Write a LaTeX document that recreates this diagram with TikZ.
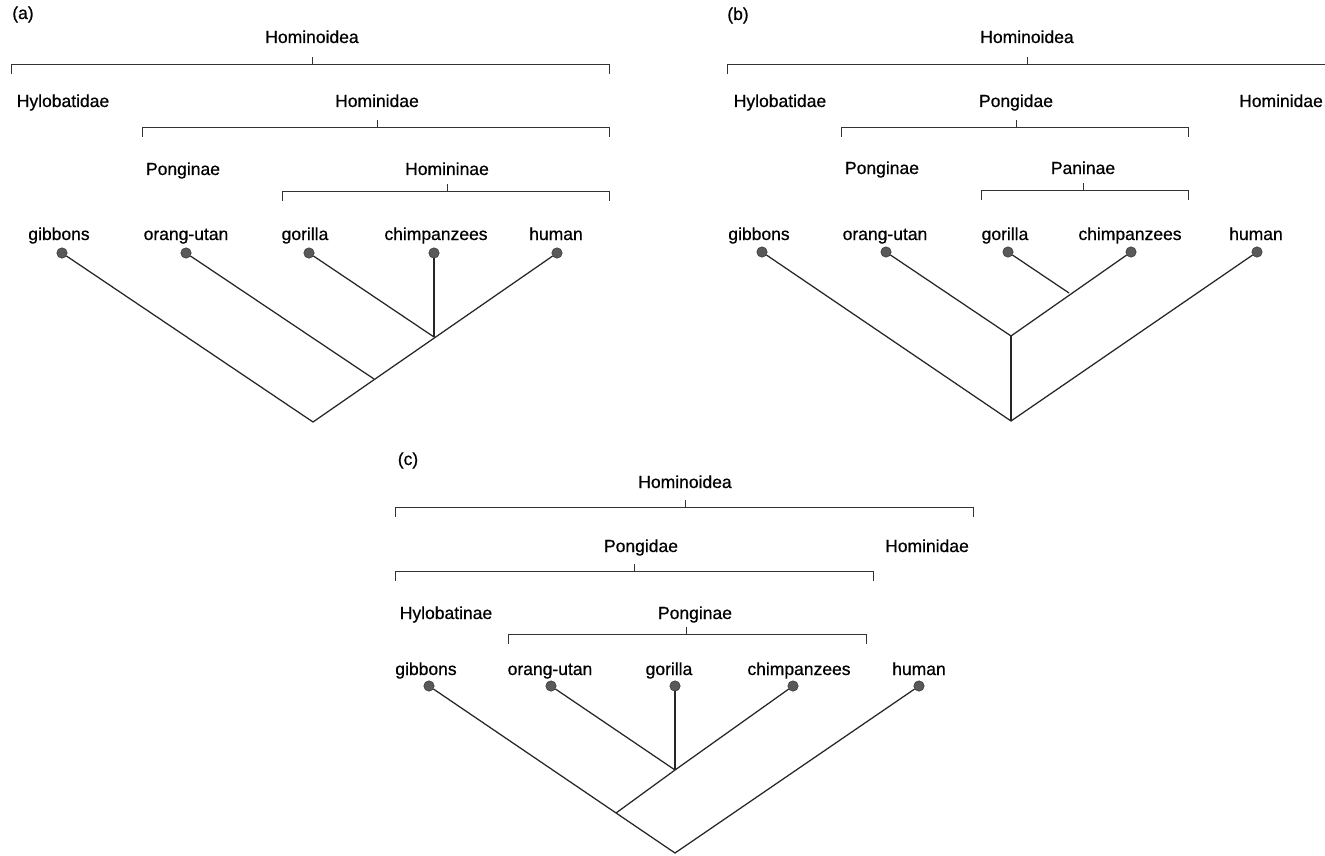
\documentclass[tikz,border=0pt]{standalone}
\usepackage{fontspec}
\setmainfont[FakeBold=0.6]{Liberation Sans}
\usetikzlibrary{positioning}
\tikzset{
    x=1pt, y=-1pt, % one unit is one pixel of the page, y runs down
    every node/.style={font=\fontsize{17.5}{20}\selectfont, inner sep=0pt, anchor=base},
    leaf/.style={circle, draw=black!85, fill=black!65, inner sep=0pt, minimum size=10.5pt, anchor=center},
    branch/.style={line width=1.25pt, black!85},
    brace/.style={line width=0.9pt, black!80},
    }
\newcommand{\clade}[4]{% bracket from #1 to #2 at height #3, tick at #4
  \draw[brace] (#1,#3+10) -- (#1,#3) -- (#2,#3) -- (#2,#3+10);
  \draw[brace] (#4,#3) -- (#4,#3-7);
}

\begin{document}
\begin{tikzpicture}
\useasboundingbox[fill=white] (0,0) rectangle (1325,856);

% (a)
\node (la) at (23,19) {(a)};
\node (aHoid) at (312,43) {Hominoidea};
\clade{11}{609}{64}{312}
\node (aHylo) at (63,107) {Hylobatidae};
\node (aHidae) at (377,107) {Hominidae};
\clade{142}{609}{127}{377}
\node (aPong) at (183,175) {Ponginae};
\node (aHinae) at (447,175) {Homininae};
\clade{282}{609}{191}{447}
\node (agibT) at (59,240) {gibbons};
\node (aoraT) at (186,240) {orang-utan};
\node (agorT) at (305,240) {gorilla};
\node (achiT) at (436,240) {chimpanzees};
\node (ahumT) at (556,240) {human};
\node[leaf] (agib) at (62,253) {};
\node[leaf] (aora) at (186,253) {};
\node[leaf] (agor) at (309,253) {};
\node[leaf] (achi) at (434,253) {};
\node[leaf] (ahum) at (557,253) {};
\coordinate (aroot) at (313,422);
\coordinate (aj1) at (374,379);
\coordinate (aj2) at (434,337);
\draw[branch] (agib) -- (aroot) -- (ahum);
\draw[branch] (aora) -- (aj1);
\draw[branch] (agor) -- (aj2);
\draw[branch] (achi) -- (aj2);

% (b)
\node (lb) at (738,20) {(b)};
\node (bHoid) at (1027,43) {Hominoidea};
\clade{727}{1335}{64}{1027}
\node (bHylo) at (780,107) {Hylobatidae};
\node (bPidae) at (1016,107) {Pongidae};
\node (bHidae) at (1281,107) {Hominidae};
\clade{841}{1188}{127}{1016}
\node (bPong) at (882,174) {Ponginae};
\node (bPan) at (1083,174) {Paninae};
\clade{981}{1188}{190}{1083}
\node (bgibT) at (759,240) {gibbons};
\node (boraT) at (885,240) {orang-utan};
\node (bgorT) at (1005,240) {gorilla};
\node (bchiT) at (1130,240) {chimpanzees};
\node (bhumT) at (1256,240) {human};
\node[leaf] (bgib) at (762,252) {};
\node[leaf] (bora) at (886,252) {};
\node[leaf] (bgor) at (1008,252) {};
\node[leaf] (bchi) at (1131,252) {};
\node[leaf] (bhum) at (1257,252) {};
\coordinate (broot) at (1011,421);
\coordinate (bj1) at (1011,336);
\coordinate (bj2) at (1069,293);
\draw[branch] (bgib) -- (broot) -- (bhum);
\draw[branch] (broot) -- (bj1);
\draw[branch] (bora) -- (bj1) -- (bchi);
\draw[branch] (bgor) -- (bj2);

% (c)
\node (lc) at (408,465) {(c)};
\node (cHoid) at (685,488) {Hominoidea};
\clade{395}{973}{507}{685}
\node (cPidae) at (641,552) {Pongidae};
\node (cHidae) at (927,552) {Hominidae};
\clade{395}{873}{571}{634}
\node (cHylo) at (446,619) {Hylobatinae};
\node (cPong) at (695,619) {Ponginae};
\clade{508}{866}{634}{686}
\node (cgibT) at (426,675) {gibbons};
\node (coraT) at (550,675) {orang-utan};
\node (cgorT) at (669,675) {gorilla};
\node (cchiT) at (799,675) {chimpanzees};
\node (chumT) at (919,675) {human};
\node[leaf] (cgib) at (429,686) {};
\node[leaf] (cora) at (551,686) {};
\node[leaf] (cgor) at (675,686) {};
\node[leaf] (cchi) at (793,686) {};
\node[leaf] (chum) at (919,686) {};
\coordinate (croot) at (675,853);
\coordinate (cj1) at (616,813);
\coordinate (cj2) at (675,770);
\draw[branch] (cgib) -- (croot) -- (chum);
\draw[branch] (cj1) -- (cj2) -- (cchi);
\draw[branch] (cora) -- (cj2);
\draw[branch] (cgor) -- (cj2);
\end{tikzpicture}
\end{document}
